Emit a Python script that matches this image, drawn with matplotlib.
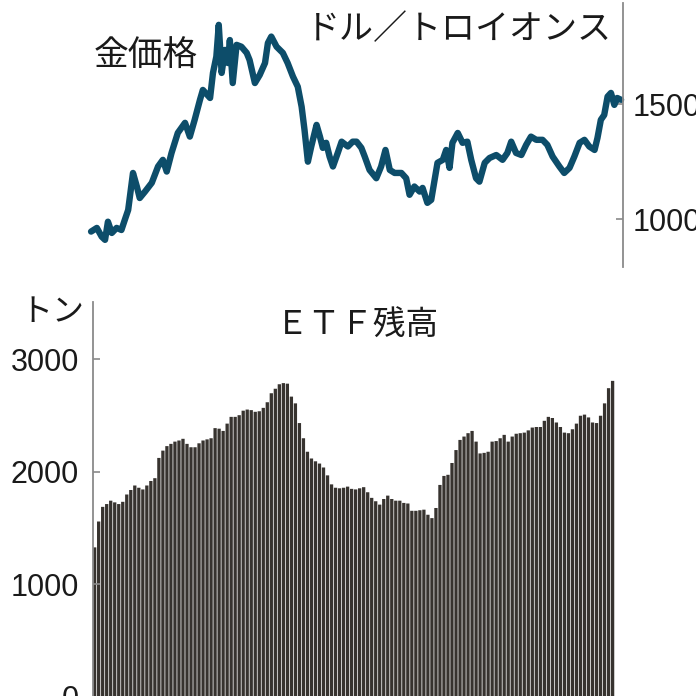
import matplotlib

matplotlib.use("Agg")
import matplotlib.pyplot as plt
import numpy as np

FIG_PX = 696
DPI = 100

JP_FONT = ["Noto Sans CJK JP", "DejaVu Sans"]
NUM_FONT = ["Liberation Sans Narrow", "Liberation Sans", "DejaVu Sans"]

GOLD_COLOR = "#0d4d6a"
BAR_COLOR = "#37332f"
AXIS_COLOR = "#8a8a8a"

# ETF holdings (tonnes), monthly from Jan 2009
ETF_START_YEAR = 2009
ETF_TONNES = [
    1330, 1560, 1690, 1715, 1745, 1730, 1715, 1735, 1800, 1840,
    1880, 1860, 1845, 1880, 1920, 1945, 2125, 2190, 2230, 2250,
    2270, 2280, 2295, 2250, 2220, 2220, 2255, 2280, 2290, 2300,
    2390, 2385, 2365, 2430, 2490, 2490, 2505, 2545, 2555, 2550,
    2535, 2540, 2570, 2620, 2700, 2740, 2780, 2790, 2785, 2670,
    2610, 2435, 2300, 2180, 2120, 2095, 2075, 2040, 1970, 1890,
    1860, 1855, 1860, 1870, 1850, 1845, 1855, 1865, 1820, 1770,
    1740, 1710, 1760, 1790, 1760, 1745, 1745, 1725, 1720, 1655,
    1655, 1660, 1665, 1620, 1590, 1680, 1885, 1965, 1975, 2080,
    2195, 2285, 2315, 2345, 2365, 2270, 2165, 2170, 2180, 2270,
    2275, 2300, 2330, 2270, 2315, 2340, 2345, 2350, 2370, 2395,
    2400, 2400, 2455, 2490, 2480, 2440, 2400, 2350, 2345, 2380,
    2430, 2500, 2510, 2485, 2440, 2435, 2500, 2610, 2745, 2810,
]

# gold price (USD / troy ounce)
GOLD_YEAR = [
    2008.96, 2009.08, 2009.18, 2009.25, 2009.31, 2009.39, 2009.49, 2009.59,
    2009.66, 2009.73, 2009.83, 2009.91, 2009.97, 2010.08, 2010.22, 2010.35,
    2010.45, 2010.53, 2010.63, 2010.76, 2010.91, 2011.01, 2011.11, 2011.22,
    2011.28, 2011.43, 2011.49, 2011.56, 2011.61, 2011.67, 2011.74, 2011.80,
    2011.84, 2011.90, 2011.98, 2012.08, 2012.19, 2012.25, 2012.36, 2012.46,
    2012.57, 2012.63, 2012.70, 2012.81, 2012.94, 2013.04, 2013.15, 2013.25,
    2013.33, 2013.39, 2013.46, 2013.53, 2013.64, 2013.71, 2013.77, 2013.84,
    2013.91, 2013.98, 2014.08, 2014.16, 2014.29, 2014.39, 2014.47, 2014.57,
    2014.64, 2014.74, 2014.88, 2014.98, 2015.07, 2015.16, 2015.26, 2015.40,
    2015.50, 2015.57, 2015.67, 2015.78, 2015.84, 2015.94, 2016.02, 2016.09,
    2016.15, 2016.26, 2016.33, 2016.40, 2016.46, 2016.57, 2016.67, 2016.77,
    2016.85, 2016.95, 2017.02, 2017.13, 2017.23, 2017.37, 2017.50, 2017.60,
    2017.68, 2017.78, 2017.89, 2017.99, 2018.09, 2018.20, 2018.33, 2018.43,
    2018.54, 2018.68, 2018.78, 2018.89, 2018.99, 2019.10, 2019.20, 2019.30,
    2019.41, 2019.47, 2019.54, 2019.61, 2019.68, 2019.75, 2019.82, 2019.88,
    2019.96,
]
GOLD_PRICE = [
    947, 963, 925, 911, 990, 941, 963, 954,
    998, 1041, 1202, 1143, 1093, 1121, 1159, 1230,
    1259, 1208, 1289, 1376, 1420, 1360, 1433, 1520,
    1563, 1528, 1637, 1708, 1846, 1637, 1737, 1680,
    1780, 1593, 1759, 1751, 1724, 1693, 1593, 1628,
    1680, 1767, 1795, 1751, 1724, 1680, 1621, 1577,
    1490, 1389, 1251, 1317, 1411, 1360, 1311, 1333,
    1273, 1230, 1289, 1338, 1317, 1338, 1338, 1311,
    1273, 1215, 1179, 1230, 1302, 1215, 1202, 1202,
    1179, 1107, 1143, 1121, 1137, 1072, 1085, 1172,
    1246, 1259, 1302, 1224, 1333, 1376, 1333, 1338,
    1259, 1179, 1164, 1246, 1267, 1280, 1259, 1289,
    1338, 1289, 1280, 1324, 1360, 1346, 1346, 1324,
    1273, 1230, 1202, 1224, 1273, 1333, 1346, 1317,
    1302, 1354, 1433, 1454, 1534, 1550, 1498, 1528,
    1520,
]

PRICE_TICKS = [1000, 1500]
TONNE_TICKS = [0, 1000, 2000, 3000]

X_LIMITS = (2009.0, 2020.0)


def px_rect(left, top, right, bottom):
    return [left / FIG_PX, 1 - bottom / FIG_PX, (right - left) / FIG_PX, (bottom - top) / FIG_PX]


def px_text(fig, x, y, s, size, **kw):
    fig.text(x / FIG_PX, 1 - y / FIG_PX, s, fontsize=size, family=JP_FONT,
             ha="center", va="center", color="#1a1a1a", **kw)


def style_axis(ax, side):
    for name, spine in ax.spines.items():
        spine.set_visible(name == side)
    ax.spines[side].set_color(AXIS_COLOR)
    ax.spines[side].set_linewidth(1.3)
    ax.set_xticks([])
    ax.set_facecolor("none")
    ax.tick_params(axis="y", direction="in", length=5, width=1.2, color=AXIS_COLOR,
                   labelsize=22, labelcolor="#1a1a1a", pad=7)
    for lab in ax.get_yticklabels():
        lab.set_family(NUM_FONT)


def main() -> None:
    fig = plt.figure(figsize=(FIG_PX / DPI, FIG_PX / DPI), dpi=DPI)

    # gold price line
    ax1 = fig.add_axes(px_rect(93, 3, 623, 267))
    ax1.plot(GOLD_YEAR, GOLD_PRICE, color=GOLD_COLOR, linewidth=4.6,
             solid_joinstyle="round", solid_capstyle="round", clip_on=False)
    ax1.set_xlim(*X_LIMITS)
    ax1.set_ylim(793, 1941)
    ax1.yaxis.tick_right()
    ax1.set_yticks(PRICE_TICKS)
    ax1.set_yticklabels([str(t) for t in PRICE_TICKS])
    style_axis(ax1, "right")

    # ETF holdings bars
    ax2 = fig.add_axes(px_rect(93, 302, 623, 697))
    months = ETF_START_YEAR + np.arange(len(ETF_TONNES)) / 12.0
    bars = ax2.bar(months, ETF_TONNES, width=0.82 / 12, align="edge", color=BAR_COLOR,
                   linewidth=0)
    for b in bars:
        b.set_snap(False)
    ax2.set_xlim(*X_LIMITS)
    ax2.set_ylim(0, 3511)
    ax2.set_yticks(TONNE_TICKS)
    ax2.set_yticklabels([str(t) for t in TONNE_TICKS])
    style_axis(ax2, "left")
    ax2.tick_params(axis="y", pad=10)

    px_text(fig, 146, 56, "金価格", 25)
    px_text(fig, 459, 30, "ドル／トロイオンス", 24.5)
    px_text(fig, 52, 312, "トン", 23)
    px_text(fig, 357, 326, "ＥＴＦ残高", 23.5)

    fig.savefig("out.png", dpi=DPI)
    plt.close(fig)


if __name__ == "__main__":
    main()
